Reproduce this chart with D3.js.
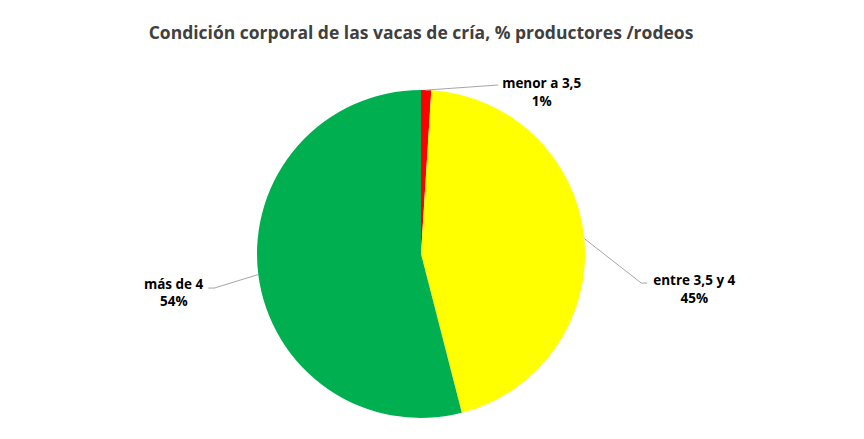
<!DOCTYPE html>
<html><head><meta charset="utf-8">
<script src="https://cdn.jsdelivr.net/npm/d3@7"></script>
<style>body{margin:0;background:#fff}svg{display:block}</style>
</head><body>
<script>
const categories = ["menor a 3,5", "entre 3,5 y 4", "más de 4"];
const values = [1, 45, 54];
const colors = ["#FF0000", "#FFFF00", "#00B050"];
const title = "Condición corporal de las vacas de cría, % productores /rodeos";

const W = 864, H = 439, cx = 421, cy = 254, R = 164;
// label layout: leader elbow offset and text anchor relative to arc point
const labelLayout = [
  {ex: 71, ey: -5, hx: 1, anchor: "start", tx: 4, ty: -1},
  {ex: 57, ey: 44.5, hx: 6, anchor: "start", tx: 6, ty: -2},
  {ex: -44, ey: 13.5, hx: -6, anchor: "end", tx: -5, ty: -3.5}
];

const svg = d3.select("body").append("svg").attr("width", W).attr("height", H);
svg.append("text").attr("x", 421).attr("y", 39).attr("text-anchor", "middle")
  .style("font-family", "'Open Sans'").style("font-weight", "bold").style("font-size", "17.5px")
  .attr("fill", "#404040").text(title);

const pie = d3.pie().sort(null).value(d => d)(values);
const arc = d3.arc().innerRadius(0).outerRadius(R);
const g = svg.append("g").attr("transform", `translate(${cx},${cy})`);
g.selectAll("path").data(pie).join("path").attr("d", arc).attr("fill", (d, i) => colors[i]);

pie.forEach((d, i) => {
  const a = (d.startAngle + d.endAngle) / 2;
  const px = R * Math.sin(a), py = -R * Math.cos(a);
  const L = labelLayout[i];
  const ex = px + L.ex, ey = py + L.ey;
  g.append("polyline").attr("points", `${px},${py} ${ex},${ey} ${ex + L.hx},${ey}`)
    .attr("fill", "none").attr("stroke", "#A6A6A6").attr("stroke-width", 1);
  const tx = ex + L.hx + L.tx;
  const font = sel => sel.style("font-family", "'Open Sans'").style("font-weight", "bold")
    .style("font-size", "13.5px").attr("fill", "#000");
  const lbl = g.append("text").attr("x", tx).attr("y", ey + L.ty + 4).attr("text-anchor", L.anchor)
    .call(font).text(categories[i]);
  const bb = lbl.node().getBBox();
  g.append("text").attr("text-anchor", "middle").call(font)
    .attr("x", bb.x + bb.width / 2).attr("y", ey + L.ty + 21.5).text(values[i] + "%");
});
</script>
</body></html>
